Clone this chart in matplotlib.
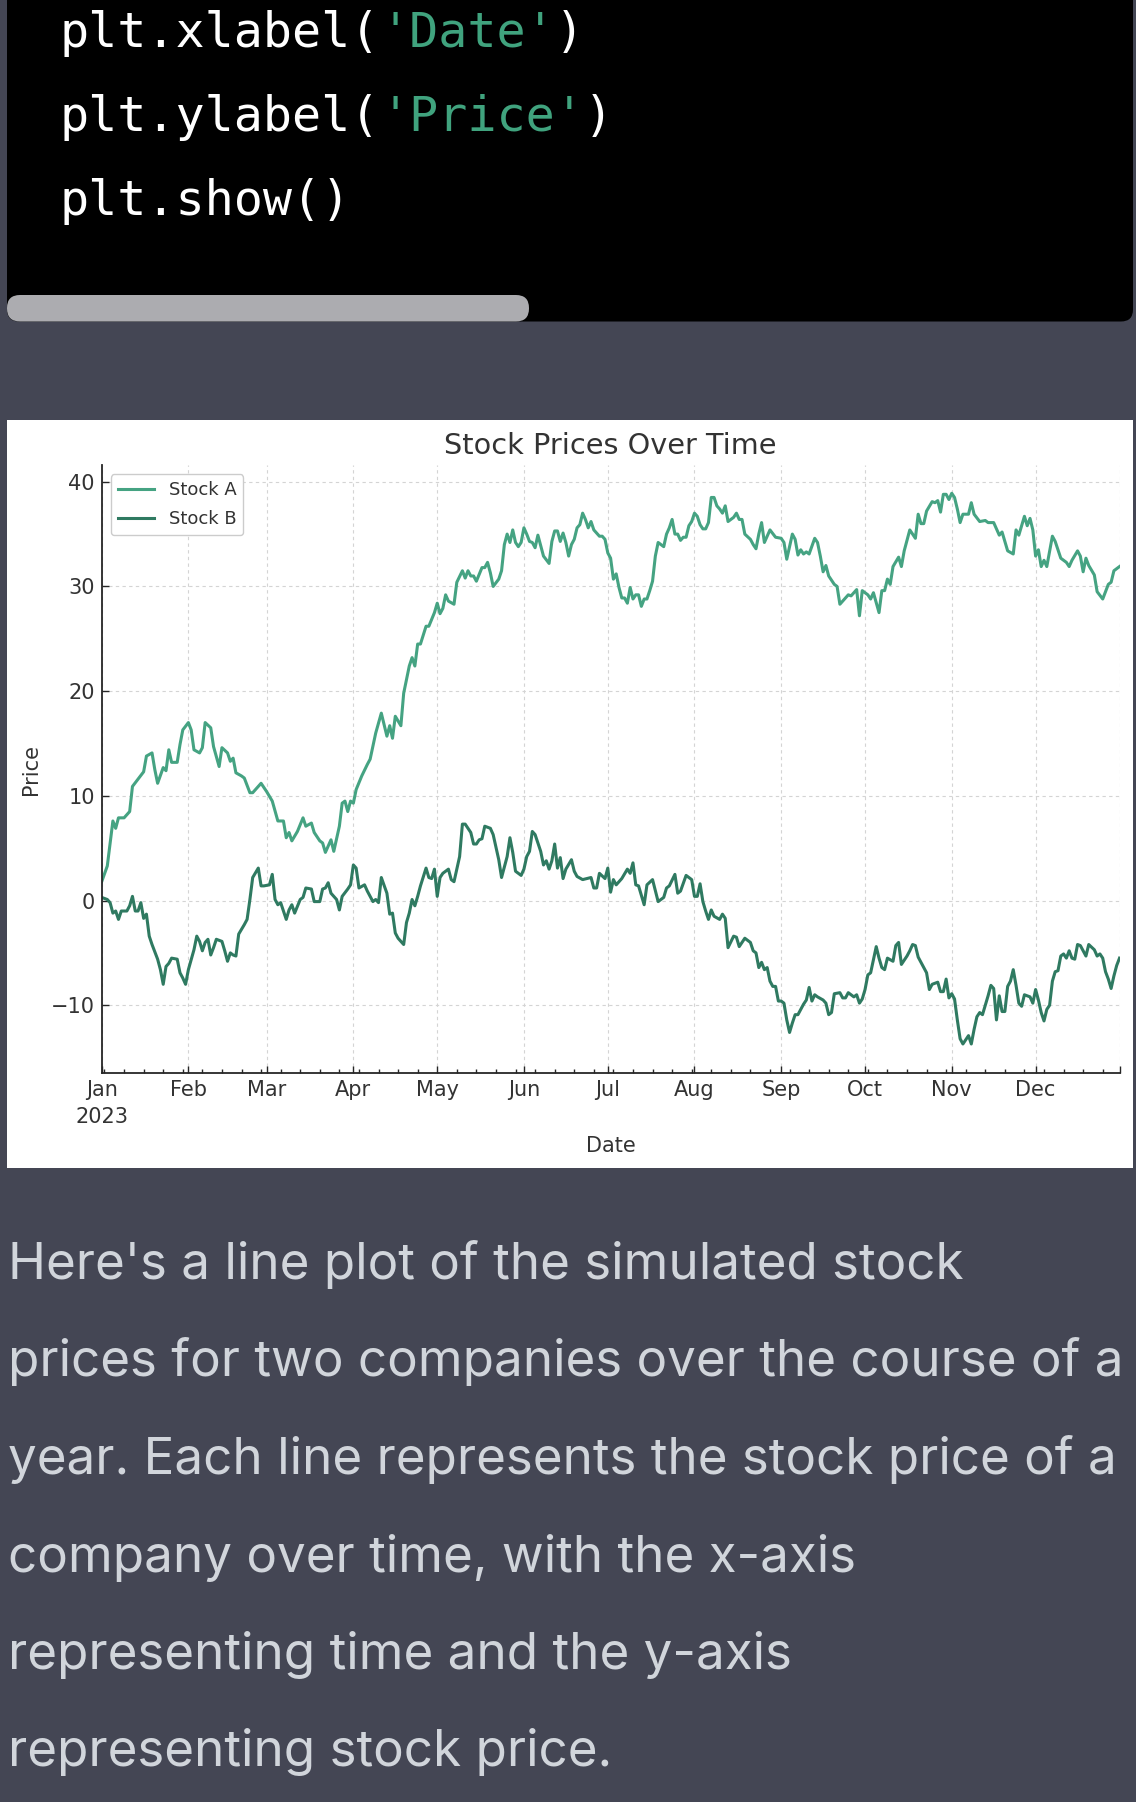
import numpy as np
import matplotlib.pyplot as plt
import matplotlib.dates as mdates
from matplotlib.patches import FancyBboxPatch, Rectangle

# (day of 2023, price)
stock_a_points = [
    (0, 1.8), (2, 3.3), (4, 7.6), (5, 6.9), (6, 7.9), (8, 7.9), (10, 8.5), (11, 10.9), (13, 11.6),
    (15, 12.3), (16, 13.8), (18, 14.1), (19, 12.5), (20, 11.2), (22, 12.7), (23, 12.4), (24, 14.4),
    (25, 13.2), (27, 13.2), (28, 14.9), (29, 16.3),
    (31, 17.0), (32, 16.3), (33, 14.4), (35, 14.1), (36, 14.6), (37, 17.0), (39, 16.5), (40, 14.7),
    (42, 12.8), (43, 14.6), (45, 14.1), (46, 13.3), (47, 13.6), (48, 12.2), (50, 11.9), (51, 11.7),
    (53, 10.3), (54, 10.3), (57, 11.2),
    (59, 10.4), (61, 9.5), (63, 7.6), (65, 7.6), (66, 6.0), (67, 6.5), (68, 5.7), (70, 6.6), (72, 7.9),
    (73, 7.1), (75, 7.4), (76, 6.5), (78, 5.7), (79, 5.5), (80, 4.6), (82, 5.8), (83, 4.7), (85, 7.1),
    (86, 9.3), (87, 9.5), (88, 8.5), (89, 9.5),
    (90, 9.3), (91, 10.6), (93, 11.9), (95, 13.0), (96, 13.5), (98, 16.0), (100, 17.9), (102, 15.7),
    (103, 16.7), (104, 15.5), (105, 17.6), (107, 16.7), (108, 19.8), (110, 22.4), (111, 23.2),
    (112, 22.4), (113, 24.5), (114, 24.5), (116, 26.2), (117, 26.2), (119, 27.5),
    (120, 28.4), (121, 27.4), (122, 27.9), (123, 29.2), (124, 28.6), (126, 28.3), (127, 30.4),
    (129, 31.5), (130, 30.8), (131, 31.5), (132, 31.0), (133, 31.0), (134, 30.5), (136, 31.8),
    (137, 31.8), (138, 32.3), (139, 31.3), (140, 30.0), (142, 30.7), (143, 31.5), (144, 34.0),
    (145, 35.0), (146, 34.2), (147, 35.4), (148, 34.2), (149, 33.8), (150, 34.2),
    (151, 35.6), (152, 35.0), (153, 34.3), (154, 34.2), (155, 33.7), (156, 34.9), (157, 33.9),
    (158, 32.9), (160, 32.2), (161, 34.3), (162, 35.3), (163, 35.3), (164, 34.3), (165, 35.1),
    (166, 34.2), (167, 32.9), (168, 34.0), (169, 34.5), (170, 35.6), (171, 35.9), (172, 37.0),
    (173, 36.4), (174, 35.6), (175, 36.2), (176, 35.4), (178, 34.8), (179, 34.8), (180, 34.5),
    (181, 33.2), (182, 32.7), (183, 30.7), (184, 31.2), (185, 29.9), (186, 28.9), (187, 28.9),
    (188, 28.4), (189, 29.9), (190, 28.8), (191, 29.2), (192, 29.2), (193, 28.1), (194, 28.8),
    (195, 28.8), (196, 29.6), (197, 30.5), (198, 32.9), (199, 34.2), (201, 33.8), (202, 35.0),
    (203, 35.6), (204, 36.4), (205, 35.0), (206, 35.0), (207, 34.4), (208, 34.7), (209, 34.7),
    (210, 35.8), (211, 36.2),
    (212, 37.0), (213, 36.7), (214, 35.9), (215, 35.5), (216, 35.5), (217, 36.1), (218, 38.5),
    (219, 38.5), (220, 37.7), (221, 37.4), (222, 37.0), (223, 37.7), (224, 36.2), (226, 36.6),
    (227, 37.0), (228, 36.4), (229, 36.4), (230, 35.0), (232, 34.5), (233, 34.0), (234, 33.6),
    (235, 35.0), (236, 36.1), (237, 34.2), (239, 35.4), (241, 34.7),
    (243, 34.6), (244, 34.2), (245, 32.6), (247, 35.0), (248, 34.5), (249, 33.0), (250, 33.5),
    (251, 33.1), (252, 33.3), (253, 33.1), (255, 34.6), (256, 34.2), (257, 32.9), (258, 31.4),
    (259, 32.0), (260, 31.0), (262, 30.2), (263, 30.0), (264, 28.3), (265, 28.6), (267, 29.2),
    (268, 29.1), (270, 29.7), (271, 27.2), (272, 29.6),
    (274, 29.2), (275, 28.8), (276, 29.4), (278, 27.5), (279, 29.6), (280, 29.6), (281, 30.7),
    (282, 30.2), (283, 31.9), (285, 32.8), (286, 31.9), (287, 33.4), (289, 35.4), (291, 34.6),
    (292, 36.9), (293, 36.0), (294, 36.0), (295, 37.2), (297, 38.1), (298, 38.0), (299, 38.2),
    (300, 37.1), (301, 38.8), (302, 38.8), (303, 38.3),
    (304, 38.9), (305, 38.5), (306, 37.4), (307, 36.1), (308, 36.9), (310, 36.9), (311, 38.0),
    (312, 36.9), (314, 36.2), (316, 36.3), (317, 36.1), (319, 36.1), (321, 34.9), (322, 35.2),
    (324, 33.4), (326, 33.1), (327, 35.4), (328, 34.9), (330, 36.7), (331, 35.8), (332, 36.5),
    (333, 35.4),
    (334, 32.9), (335, 33.5), (336, 31.9), (337, 32.5), (338, 31.9), (340, 34.8), (341, 34.3),
    (343, 32.7), (345, 32.3), (346, 31.9), (347, 32.5), (349, 33.4), (350, 32.9), (351, 31.4),
    (352, 32.7), (353, 32.0), (355, 31.1), (356, 29.5), (358, 28.8), (360, 30.2), (361, 30.4),
    (362, 31.5), (364, 31.9),
]

stock_b_points = [
    (0, 0.3), (2, 0.1), (3, -0.2), (4, -1.2), (5, -1.0), (6, -1.8), (7, -1.0), (9, -1.0), (10, -0.5),
    (11, 0.4), (12, -1.0), (13, -1.0), (14, -0.2), (15, -1.7), (16, -1.3), (17, -3.4), (18, -4.2),
    (20, -5.6), (21, -6.6), (22, -8.0), (23, -6.3), (24, -6.0), (25, -5.5), (27, -5.6), (28, -6.9),
    (29, -7.4), (30, -8.0),
    (31, -6.6), (33, -4.7), (34, -3.4), (35, -3.9), (36, -4.8), (37, -4.0), (38, -3.7), (39, -5.2),
    (40, -4.5), (41, -3.7), (43, -3.9), (44, -4.8), (45, -5.8), (46, -5.0), (47, -5.2), (48, -5.3),
    (49, -3.2), (51, -2.3), (52, -1.8), (53, 0.1), (54, 2.2), (56, 3.1), (57, 1.4),
    (58, 1.4), (60, 1.5), (61, 2.5), (62, 0.1), (63, -0.4), (64, -0.2), (66, -1.8), (67, -0.9),
    (68, -0.4), (69, -1.2), (71, 0.1), (72, 0.3), (73, 1.2), (75, 1.1), (76, -0.1), (78, -0.1),
    (79, 1.1), (80, 1.2), (81, 1.7), (82, 0.7), (84, 0.1), (85, -0.9), (86, 0.4), (88, 1.1), (89, 1.5),
    (90, 3.4), (91, 3.1), (92, 1.2), (94, 1.5), (95, 0.9), (97, -0.1), (98, 0.1), (99, -0.2),
    (100, 2.2), (102, 0.7), (103, -1.3), (104, -1.2), (105, -3.1), (106, -3.6), (108, -4.2),
    (109, -2.1), (110, -1.2), (111, 0.1), (112, -0.5), (113, 0.4), (114, 1.4), (116, 3.1),
    (117, 2.2), (118, 2.1), (119, 3.0),
    (120, 0.4), (121, 2.2), (122, 2.6), (124, 3.0), (125, 2.0), (126, 1.8), (128, 4.2), (129, 7.3),
    (130, 7.3), (132, 6.5), (133, 5.4), (134, 5.4), (135, 5.8), (136, 5.9), (137, 7.1), (139, 6.9),
    (140, 6.3), (142, 3.9), (143, 2.2), (145, 4.2), (146, 6.0), (147, 4.6), (148, 2.8), (150, 2.4),
    (151, 3.0), (152, 4.2), (153, 4.7), (154, 6.6), (155, 6.3), (157, 4.7), (158, 3.4), (159, 3.8),
    (160, 3.0), (161, 3.8), (162, 5.4), (163, 3.1), (164, 4.1), (165, 2.1), (166, 3.0), (168, 3.9),
    (169, 2.8), (170, 2.3), (172, 2.0), (175, 2.2), (176, 1.2), (177, 1.2), (178, 2.6), (180, 2.1),
    (181, 3.1), (182, 0.8), (183, 2.0), (184, 1.5), (186, 2.1), (188, 3.0), (189, 2.6), (190, 3.6),
    (191, 1.5), (192, 1.4), (194, -0.4), (195, 1.5), (197, 2.0), (199, -0.1), (201, 0.3), (202, 1.2),
    (203, 1.4), (205, 2.5), (206, 0.7), (207, 0.9), (209, 2.4), (211, 2.0),
    (212, 0.4), (213, 0.4), (214, 1.6), (215, -0.1), (216, -1.0), (217, -1.8), (218, -0.9),
    (219, -1.5), (221, -1.8), (222, -1.3), (223, -1.7), (224, -4.5), (226, -3.4), (227, -3.5),
    (228, -4.4), (230, -3.6), (232, -4.0), (233, -4.8), (234, -5.0), (235, -6.4), (236, -5.9),
    (237, -6.6), (238, -6.4), (239, -7.7), (240, -8.2), (241, -8.2), (242, -9.6),
    (243, -9.6), (244, -9.8), (245, -11.4), (246, -12.6), (247, -11.7), (248, -10.9), (249, -10.9),
    (250, -10.4), (251, -9.9), (252, -9.5), (253, -8.3), (254, -9.6), (255, -9.0), (256, -9.2),
    (258, -9.5), (259, -9.8), (260, -10.9), (261, -10.7), (262, -8.9), (264, -8.8), (265, -9.3),
    (266, -9.3), (267, -8.8), (269, -9.2), (270, -9.0), (271, -9.8), (272, -9.4),
    (273, -8.5), (274, -7.1), (275, -6.9), (277, -4.4), (278, -5.5), (279, -6.4), (280, -6.6),
    (281, -5.5), (283, -5.8), (284, -4.3), (285, -4.0), (286, -6.1), (288, -5.3), (289, -4.8),
    (290, -4.2), (291, -4.3), (292, -5.4), (293, -5.9), (295, -6.9), (296, -8.5), (297, -8.0),
    (299, -7.8), (300, -8.7), (301, -8.7), (302, -7.5), (303, -9.3),
    (304, -8.9), (305, -9.4), (306, -11.4), (307, -13.2), (308, -13.7), (309, -13.3), (310, -12.9),
    (311, -13.7), (312, -12.3), (313, -11.1), (314, -10.7), (315, -10.9), (317, -9.1), (318, -8.1),
    (319, -8.4), (320, -11.4), (321, -9.1), (322, -10.6), (323, -10.6), (324, -8.2), (325, -7.7),
    (326, -6.6), (327, -8.1), (328, -9.8), (329, -10.1), (330, -9.0), (332, -9.2), (333, -9.8),
    (334, -8.5), (335, -9.5), (336, -10.7), (337, -11.5), (338, -10.4), (339, -10.0), (340, -7.7),
    (341, -6.8), (342, -6.7), (343, -5.3), (344, -5.1), (345, -5.5), (346, -4.8), (347, -5.5),
    (348, -5.6), (349, -4.2), (350, -4.3), (352, -5.3), (353, -4.2), (355, -4.7), (356, -5.3),
    (357, -5.1), (358, -5.5), (359, -6.8), (360, -7.5), (361, -8.4), (362, -7.2), (363, -6.2),
    (364, -5.5),
]

month_labels = ['Jan\n2023', 'Feb', 'Mar', 'Apr', 'May', 'Jun', 'Jul', 'Aug', 'Sep', 'Oct', 'Nov', 'Dec']
y_ticks = [-10, 0, 10, 20, 30, 40]

code_lines = [("plt.xlabel(", "'Date'", ")"),
              ("plt.ylabel(", "'Price'", ")"),
              ("plt.show()", "", "")]

reply_lines = [
    "Here's a line plot of the simulated stock",
    "prices for two companies over the course of a",
    "year. Each line represents the stock price of a",
    "company over time, with the x-axis",
    "representing time and the y-axis",
    "representing stock price.",
]

start = np.datetime64('2023-01-01')
a_days, a_vals = zip(*stock_a_points)
b_days, b_vals = zip(*stock_b_points)
a_dates = start + np.array(a_days)
b_dates = start + np.array(b_days)

W, H = 1136, 1802
fig = plt.figure(figsize=(W / 100, H / 100), dpi=100)
fig.patch.set_facecolor('#444654')

# page layer, in screen pixels
page = fig.add_axes([0, 0, 1, 1])
page.set_xlim(0, W)
page.set_ylim(H, 0)
page.axis('off')

# code block + scrollbar
page.add_patch(FancyBboxPatch((7, -40), 1126, 361.5, boxstyle='round,pad=0,rounding_size=12',
                              fc='black', ec='none'))
page.add_patch(FancyBboxPatch((7, 295), 522, 26.5, boxstyle='round,pad=0,rounding_size=13',
                              fc='#acacb0', ec='none'))

code_size = 34.8
adv = 0.602 * code_size * 100 / 72
for i, (head, string, tail) in enumerate(code_lines):
    yb = 46.7 + i * 84
    x = 60
    page.text(x, yb, head, color='white', fontsize=code_size, family='DejaVu Sans Mono', va='baseline')
    x += adv * len(head)
    if string:
        page.text(x, yb, string, color='#40a37e', fontsize=code_size, family='DejaVu Sans Mono', va='baseline')
        x += adv * len(string)
        page.text(x, yb, tail, color='white', fontsize=code_size, family='DejaVu Sans Mono', va='baseline')

# white image background of the chart
page.add_patch(Rectangle((7, 420), 1126, 748, fc='white', ec='none'))

for i, line in enumerate(reply_lines):
    page.text(8, 1279 + i * 97.5, line, color='#d1d5db', fontsize=36.8, family='Inter', va='baseline')

# chart
ax = fig.add_axes([101.7 / W, 1 - 1073.3 / H, (1119.5 - 101.7) / W, (1073.3 - 465) / H])
ax.plot(a_dates, a_vals, color='#45a382', lw=2.2, label='Stock A')
ax.plot(b_dates, b_vals, color='#2f7a61', lw=2.2, label='Stock B')

ax.set_xlim(start, np.datetime64('2023-12-31'))
ax.set_ylim(-16.5, 41.6)

month_ticks = [np.datetime64(f'2023-{m:02d}-01') for m in range(1, 13)] + [np.datetime64('2023-12-31')]
ax.set_xticks(month_ticks, month_labels + [''])
ax.get_xticklabels()[0].set_linespacing(1.4)
ax.xaxis.set_minor_locator(mdates.WeekdayLocator(byweekday=mdates.MO))
ax.set_yticks(y_ticks)

txt = '#333333'
ax.tick_params(which='both', direction='in', color='#262626', labelcolor=txt, labelsize=15, width=1)
ax.tick_params(which='major', length=5.2, pad=5)
ax.tick_params(which='minor', length=3)
for side in ['top', 'right']:
    ax.spines[side].set_visible(False)
for side in ['left', 'bottom']:
    ax.spines[side].set_color('#262626')
    ax.spines[side].set_linewidth(1.3)

ax.grid(True, which='major', linestyle=(0, (3, 3)), color='#d4d4d4', linewidth=0.8)
ax.set_axisbelow(True)

ax.set_title('Stock Prices Over Time', fontsize=20.7, color=txt, pad=8)
ax.set_xlabel('Date', fontsize=15, color=txt, labelpad=7)
ax.set_ylabel('Price', fontsize=15, color=txt, labelpad=7)
leg = ax.legend(loc='upper left', fontsize=13, edgecolor='#cccccc', framealpha=1, labelspacing=0.6)
for t in leg.get_texts():
    t.set_color(txt)

fig.savefig('out.png', dpi=100, facecolor=fig.get_facecolor())
